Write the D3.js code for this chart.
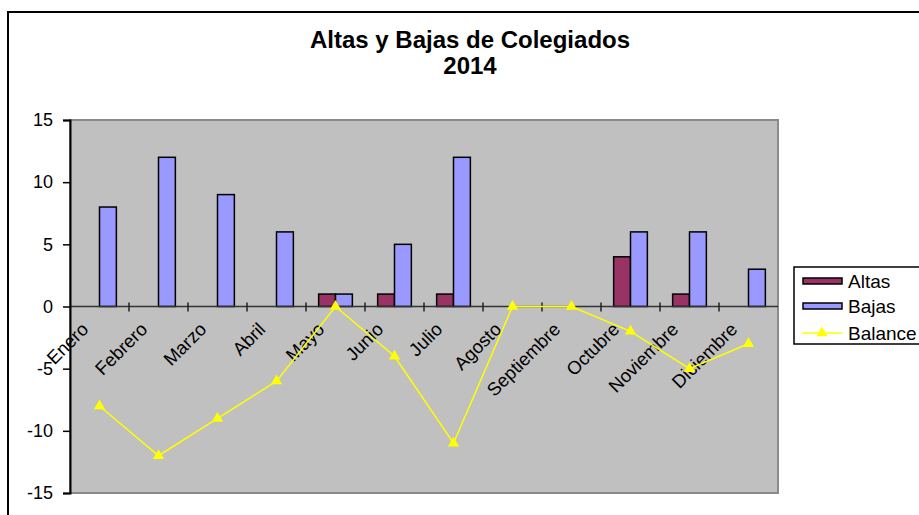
<!DOCTYPE html>
<html>
<head>
<meta charset="utf-8">
<script src="https://cdn.jsdelivr.net/npm/d3@7"></script>
<style>
  body { margin: 0; background: #fff; }
  svg { display: block; font-family: "Liberation Sans", Arial, sans-serif; }
</style>
</head>
<body>
<svg id="chart" width="919" height="515"></svg>
<script>
const months = ["Enero","Febrero","Marzo","Abril","Mayo","Junio","Julio","Agosto","Septiembre","Octubre","Noviembre","Diciembre"];
const altas   = [0,0,0,0,1,1,1,0,0,4,1,0];
const bajas   = [8,12,9,6,1,5,12,0,0,6,6,3];
const balance = [-8,-12,-9,-6,0,-4,-11,0,0,-2,-5,-3];
const yTicks  = [-15,-10,-5,0,5,10,15];
const seriesNames = ["Altas","Bajas","Balance"];
const colors = {Altas:"#993366", Bajas:"#9999FF", Balance:"#FFFF00"};

const svg = d3.select("#chart");
const plot = {left:70, right:778, top:120, bottom:493};

// outer chart border
svg.append("rect").attr("x",8).attr("y",12).attr("width",940).attr("height",540)
  .attr("fill","#fff").attr("stroke","#000").attr("stroke-width",2);

// title
svg.append("text").attr("x",470).attr("y",48).attr("text-anchor","middle")
  .attr("font-size",24).attr("font-weight","bold").text("Altas y Bajas de Colegiados");
svg.append("text").attr("x",470).attr("y",74).attr("text-anchor","middle")
  .attr("font-size",24).attr("font-weight","bold").text("2014");

const x = d3.scaleBand().domain(months).range([plot.left, plot.right]).paddingInner(0).paddingOuter(0);
const x1 = d3.scaleBand().domain(["Altas","Bajas"]).range([0, x.bandwidth()]).paddingInner(0).paddingOuter(0.75);
const y = d3.scaleLinear().domain([-15,15]).range([plot.bottom, plot.top]);

// plot area
svg.append("rect").attr("x",plot.left).attr("y",plot.top)
  .attr("width",plot.right-plot.left).attr("height",plot.bottom-plot.top)
  .attr("fill","#C0C0C0").attr("stroke","#8a8a8a").attr("stroke-width",2);

// bars
const groups = svg.append("g");
const barData = [];
months.forEach((m,i)=>{
  barData.push({m, s:"Altas", v:altas[i]});
  barData.push({m, s:"Bajas", v:bajas[i]});
});
groups.selectAll("rect").data(barData.filter(d=>d.v!==0)).join("rect")
  .attr("x", d=>x(d.m)+x1(d.s))
  .attr("width", x1.bandwidth())
  .attr("y", d=>y(Math.max(0,d.v)))
  .attr("height", d=>Math.abs(y(d.v)-y(0)))
  .attr("fill", d=>colors[d.s])
  .attr("stroke","#000").attr("stroke-width",1.5);

// zero axis line with category ticks
svg.append("line").attr("x1",plot.left).attr("x2",plot.right)
  .attr("y1",y(0)).attr("y2",y(0)).attr("stroke","#333").attr("stroke-width",1.5);
const bounds = months.map(m=>x(m)+x.bandwidth()).slice(0,-1);
svg.append("g").selectAll("line").data(bounds).join("line")
  .attr("x1",d=>d).attr("x2",d=>d).attr("y1",y(0)-4).attr("y2",y(0)+5)
  .attr("stroke","#222").attr("stroke-width",1.5);

// category labels
svg.append("g").selectAll("text").data(months).join("text")
  .attr("transform", d=>`translate(${x(d)+x.bandwidth()/2-10},${y(0)+24}) rotate(-45)`)
  .attr("text-anchor","end").attr("font-size",18.5).attr("fill","#000").text(d=>d);

// balance line
const line = d3.line().x((d,i)=>x(months[i])+x.bandwidth()/2).y(d=>y(d));
svg.append("path").datum(balance).attr("d",line)
  .attr("fill","none").attr("stroke",colors.Balance).attr("stroke-width",1.5);
const tri = d3.symbol().type(d3.symbolTriangle).size(55);
svg.append("g").selectAll("path").data(balance).join("path")
  .attr("transform",(d,i)=>`translate(${x(months[i])+x.bandwidth()/2},${y(d)})`)
  .attr("d",tri()).attr("fill",colors.Balance);

// y axis
const yAxis = d3.axisLeft(y).tickValues(yTicks).tickSize(7).tickPadding(10).tickFormat(d=>String(d));
const ya = svg.append("g").attr("transform",`translate(${plot.left},0)`).call(yAxis);
ya.select(".domain").attr("stroke","#000").attr("stroke-width",2);
ya.selectAll(".tick line").attr("stroke","#000").attr("stroke-width",1.5);
ya.selectAll(".tick text").attr("font-size",18).attr("fill","#000")
  .attr("font-family","Liberation Sans, Arial, sans-serif");

// legend
const lg = svg.append("g");
lg.append("rect").attr("x",794).attr("y",267).attr("width",140).attr("height",77)
  .attr("fill","#fff").attr("stroke","#000").attr("stroke-width",1.5);
const ly = [281, 306, 333];
seriesNames.forEach((s,i)=>{
  if (s==="Balance") {
    lg.append("line").attr("x1",802).attr("x2",842).attr("y1",ly[i]).attr("y2",ly[i])
      .attr("stroke",colors[s]).attr("stroke-width",1.5);
    lg.append("path").attr("transform",`translate(822,${ly[i]})`).attr("d",tri()).attr("fill",colors[s]);
  } else {
    lg.append("rect").attr("x",803).attr("y",ly[i]-3).attr("width",39).attr("height",6)
      .attr("fill",colors[s]).attr("stroke","#000").attr("stroke-width",1.5);
  }
  lg.append("text").attr("x",848).attr("y",ly[i]+7).attr("font-size",19).text(s);
});
</script>
</body>
</html>
